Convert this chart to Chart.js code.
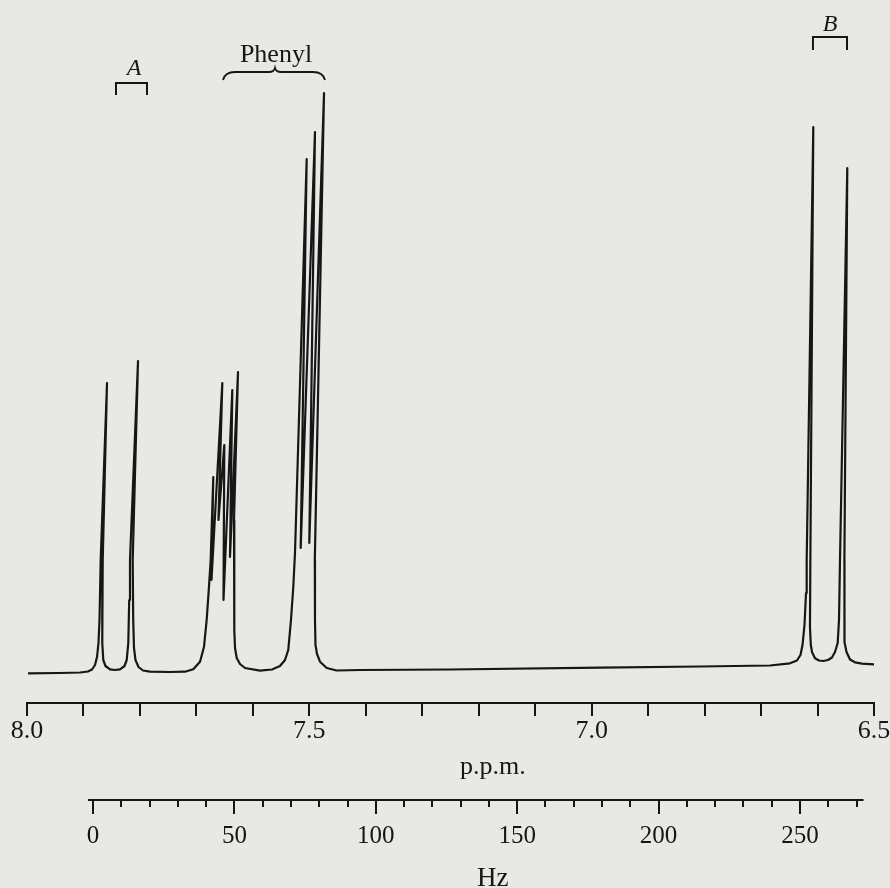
<!DOCTYPE html>
<html>
<head>
<meta charset="utf-8">
<title>NMR spectrum</title>
<script src="https://cdn.jsdelivr.net/npm/chart.js@4.4.1/dist/chart.umd.min.js"></script>
<style>
  html, body { margin: 0; padding: 0; background: #e8e9e5; }
  #wrap { position: relative; width: 890px; height: 888px; }
</style>
</head>
<body>
<div id="wrap"><canvas id="spectrum"></canvas></div>
<script>
// pen trace: shift in p.p.m. and pen height (arbitrary units)
const shiftPpm = [
  7.9982, 7.9416, 7.9061, 7.8920, 7.8849, 7.8796, 7.8760, 7.8734, 7.8716, 7.8695,
  7.8583, 7.8659, 7.8668, 7.8666, 7.8649, 7.8610, 7.8530, 7.8442, 7.8353, 7.8273,
  7.8234, 7.8206, 7.8190, 7.8176, 7.8034, 7.8128, 7.8119, 7.8105, 7.8079, 7.8025,
  7.7946, 7.7822, 7.7468, 7.7202, 7.7055, 7.6936, 7.6865, 7.6818, 7.6777, 7.6747,
  7.6701, 7.6733, 7.6541, 7.6609, 7.6506, 7.6520, 7.6364, 7.6405, 7.6263, 7.6334,
  7.6329, 7.6316, 7.6286, 7.6228, 7.6139, 7.5874, 7.5661, 7.5520, 7.5431, 7.5373,
  7.5325, 7.5284, 7.5254, 7.5047, 7.5153, 7.4900, 7.5001, 7.4740, 7.4903, 7.4900,
  7.4891, 7.4864, 7.4811, 7.4692, 7.4515, 7.4103, 7.2509, 6.9853, 6.8082, 6.6842,
  6.6488, 6.6364, 6.6302, 6.6266, 6.6231, 6.6204, 6.6192, 6.6075, 6.6127, 6.6134,
  6.6119, 6.6098, 6.6045, 6.5974, 6.5898, 6.5815, 6.5744, 6.5691, 6.5643, 6.5620,
  6.5602, 6.5473, 6.5524, 6.5531, 6.5514, 6.5487, 6.5425, 6.5337, 6.5213, 6.5000
];
const intensity = [
  -3.3, -3, -2.5, -1.5, 0.5, 5, 13, 27, 50, 110,
  287, 110, 70, 27, 10, 4, 0.7, 0, 0.7, 4,
  10, 27, 70, 110, 309, 110, 50, 22, 10, 3,
  -0.5, -1.7, -2, -1.7, 0.7, 8.3, 23.3, 50, 83.3, 110,
  193, 90, 287, 150, 225, 70, 280, 113, 298, 150,
  40, 22, 12, 6, 2, -0.7, 0.5, 4, 10, 20,
  50, 83, 117, 511, 122, 538, 127, 577, 110, 50,
  25, 16, 8.3, 2, -0.5, 0, 0.5, 2.3, 3.5, 4.5,
  6.7, 9.5, 15, 25, 45, 77, 110, 543, 110, 43,
  25, 18, 11.7, 9.5, 9, 10, 12.5, 18, 27, 50,
  110, 502, 110, 50, 28, 18, 10.5, 7.7, 6.3, 5.7
];

// axis labels
const ppmLabels = ['8.0', '7.5', '7.0', '6.5'];
const hzLabels = [0, 50, 100, 150, 200, 250];

// the Hz rule: 0 Hz lies at 7.883 p.p.m., about 199.7 Hz per p.p.m.
const hzZeroPpm = 7.883;
const hzPerPpm = 199.7;
const hzRule = [-1.8, 272.5];

// group markers over the peaks
const groupText = ['A', 'Phenyl', 'B'];
const groupTextPpm = [7.8105, 7.5590, 6.5779];
const groupTextHeight = [595, 608, 639];
const bracketFrom = [7.8424, 6.6081];
const bracketTo = [7.7875, 6.5478];
const bracketTop = [587, 633];
const bracketLeg = [575, 620];
const braceSpan = [7.6529, 7.5608, 7.4723];   // left end, tip, right end
const braceHeight = [590, 598, 602];          // ends, bar, tip

const ink = '#161616';
const serif = '"Liberation Serif", "Times New Roman", serif';

const markers = {
    id: 'markers',
    afterDraw(chart) {
        const { ctx } = chart;
        const x = chart.scales.x, y = chart.scales.y, hz = chart.scales.hz;
        ctx.save();
        ctx.strokeStyle = ink;
        ctx.fillStyle = ink;
        ctx.lineWidth = 2;
        ctx.lineCap = 'butt';

        // printed Hz rule (shorter than the plot width)
        ctx.beginPath();
        ctx.moveTo(hz.getPixelForValue(hzRule[0]), hz.top + 1);
        ctx.lineTo(hz.getPixelForValue(hzRule[1]), hz.top + 1);
        ctx.stroke();

        // square brackets over A and B
        for (let i = 0; i < bracketFrom.length; i++) {
            const x1 = x.getPixelForValue(bracketFrom[i]);
            const x2 = x.getPixelForValue(bracketTo[i]);
            const yt = y.getPixelForValue(bracketTop[i]);
            const yl = y.getPixelForValue(bracketLeg[i]);
            ctx.beginPath();
            ctx.moveTo(x1, yl);
            ctx.lineTo(x1, yt);
            ctx.lineTo(x2, yt);
            ctx.lineTo(x2, yl);
            ctx.stroke();
        }

        // curly brace over the phenyl multiplets
        const b1 = x.getPixelForValue(braceSpan[0]);
        const bm = x.getPixelForValue(braceSpan[1]);
        const b2 = x.getPixelForValue(braceSpan[2]);
        const yEnd = y.getPixelForValue(braceHeight[0]);
        const yBar = y.getPixelForValue(braceHeight[1]);
        const yTip = y.getPixelForValue(braceHeight[2]);
        ctx.lineWidth = 1.8;
        ctx.beginPath();
        ctx.moveTo(b1, yEnd);
        ctx.quadraticCurveTo(b1 + 2, yBar, b1 + 12, yBar);
        ctx.lineTo(bm - 6, yBar);
        ctx.quadraticCurveTo(bm - 1, yBar, bm, yTip);
        ctx.quadraticCurveTo(bm + 1, yBar, bm + 6, yBar);
        ctx.lineTo(b2 - 12, yBar);
        ctx.quadraticCurveTo(b2 - 2, yBar, b2, yEnd);
        ctx.stroke();

        // group names
        ctx.textAlign = 'center';
        ctx.textBaseline = 'alphabetic';
        groupText.forEach((t, i) => {
            ctx.font = (t === 'Phenyl' ? '26px ' : 'italic 24px ') + serif;
            ctx.fillText(t, x.getPixelForValue(groupTextPpm[i]), y.getPixelForValue(groupTextHeight[i]));
        });

        // axis names
        ctx.font = '26px ' + serif;
        ctx.fillText('p.p.m.', x.left + 0.55 * x.width, x.bottom - 25);
        ctx.font = '27px ' + serif;
        ctx.fillText('Hz', hz.left + 0.55 * hz.width, hz.bottom - 2);
        ctx.restore();
    }
};

const points = shiftPpm.map((v, i) => ({ x: v, y: intensity[i] }));

new Chart(document.getElementById('spectrum'), {
    type: 'line',
    data: {
        datasets: [{
            data: points,
            borderColor: ink,
            borderWidth: 2.2,
            borderJoinStyle: 'round',
            pointRadius: 0,
            tension: 0,
            fill: false
        }]
    },
    options: {
        responsive: true,
        maintainAspectRatio: false,
        animation: false,
        layout: { padding: { left: 27, right: 16, top: 0, bottom: 0 } },
        plugins: { legend: { display: false }, tooltip: { enabled: false } },
        scales: {
            x: {
                type: 'linear',
                position: 'bottom',
                weight: 0,
                reverse: true,
                min: 6.5,
                max: 8.0,
                afterBuildTicks: s => {
                    const t = [];
                    for (let i = 0; i <= 15; i++) t.push({ value: Math.round((6.5 + i * 0.1) * 10) / 10 });
                    s.ticks = t;
                },
                afterFit: s => { s.height = 96; },
                ticks: {
                    autoSkip: false,
                    maxRotation: 0,
                    padding: 0,
                    color: ink,
                    font: { family: serif, size: 26 },
                    callback: v => ppmLabels.find(l => Math.abs(parseFloat(l) - v) < 1e-6) || ''
                },
                grid: { drawOnChartArea: false, tickLength: 13, color: ink, lineWidth: 2 },
                border: { display: true, color: ink, width: 2 }
            },
            hz: {
                type: 'linear',
                position: 'bottom',
                weight: 1,
                min: (hzZeroPpm - 8.0) * hzPerPpm,
                max: (hzZeroPpm - 6.5) * hzPerPpm,
                afterBuildTicks: s => {
                    const t = [];
                    for (let v = 0; v <= 270; v += 10) t.push({ value: v });
                    s.ticks = t;
                },
                afterFit: s => { s.height = 89; },
                ticks: {
                    autoSkip: false,
                    maxRotation: 0,
                    padding: 7,
                    color: ink,
                    font: { family: serif, size: 25 },
                    callback: v => hzLabels.includes(v) ? String(v) : ''
                },
                grid: {
                    drawOnChartArea: false,
                    tickLength: 15,
                    color: ink,
                    lineWidth: 2,
                    tickBorderDash: c => (c.tick && c.tick.value % 50 === 0) ? [] : [8, 40]
                },
                border: { display: false }
            },
            y: {
                type: 'linear',
                display: false,
                min: -33,
                max: 670
            }
        }
    },
    plugins: [markers]
});
</script>
</body>
</html>
